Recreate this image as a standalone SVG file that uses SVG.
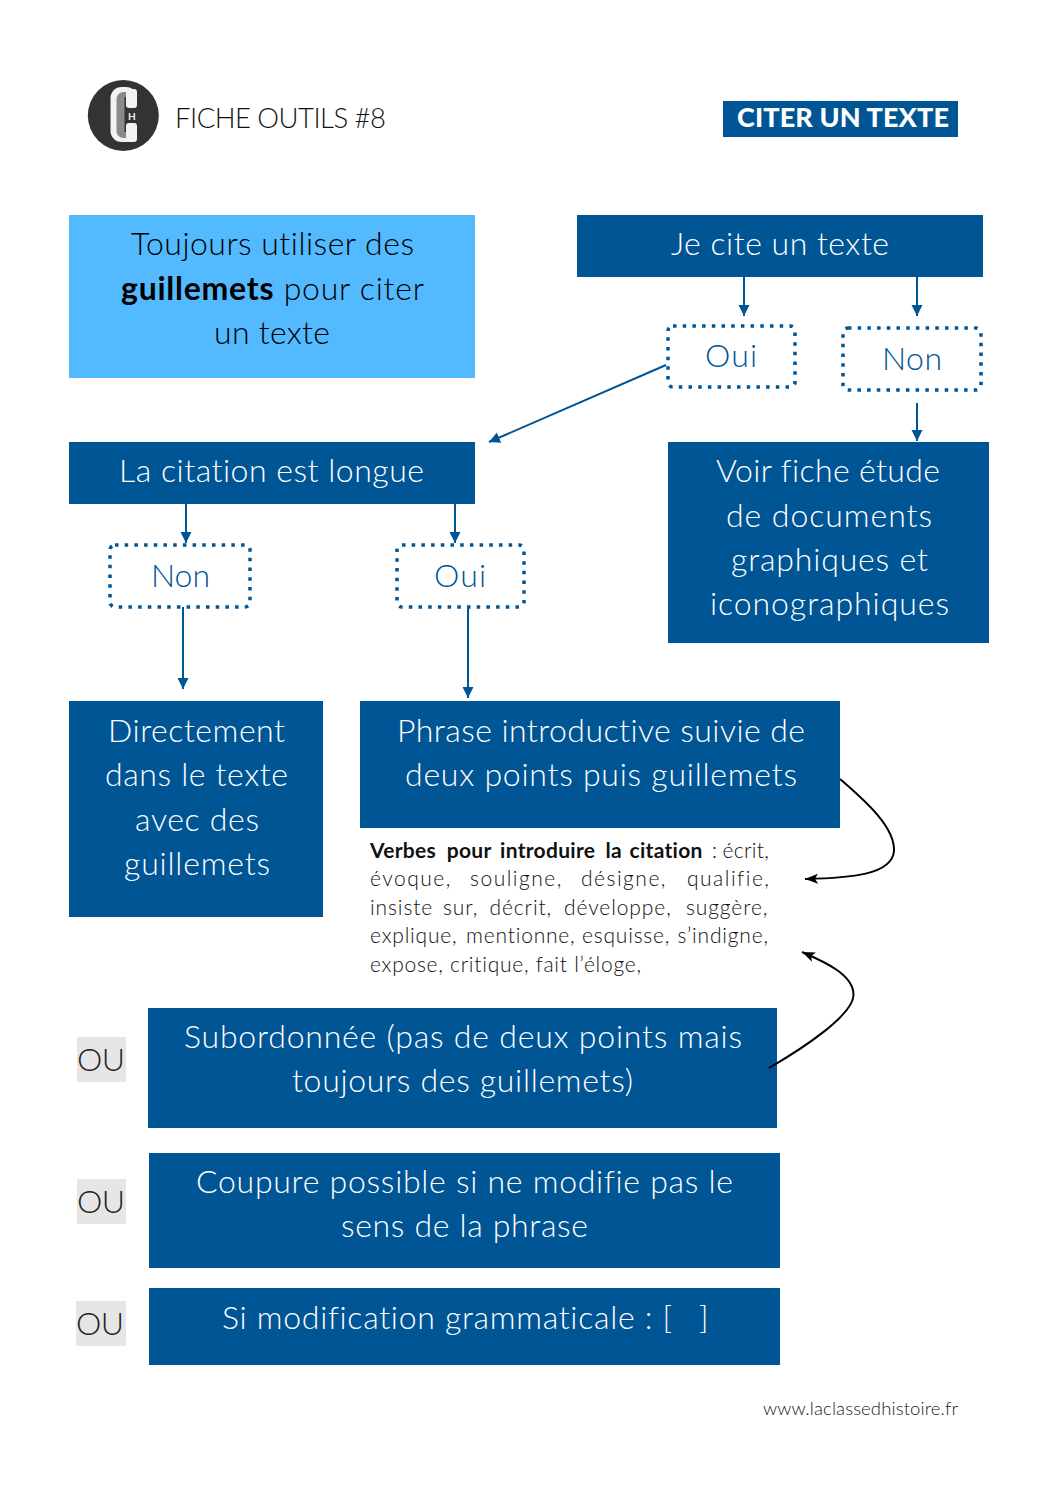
<svg xmlns="http://www.w3.org/2000/svg" width="1058" height="1497" viewBox="0 0 1058 1497">
<style>
text{font-family:"Lato","Noto Sans",sans-serif;font-weight:300;font-variant-ligatures:none}
.b{fill:#005595}
.l{font-size:32px;fill:#fff}
.d{font-size:32px;fill:#005595}
.s{font-size:21px;fill:#111}
.bd{font-weight:700}
.ou{font-size:32px;fill:#222}
.g{fill:#e6e6e6}
.dot{fill:#fff;stroke:#005595;stroke-width:3.5;stroke-dasharray:3.5 6.2}
.c{fill:none;stroke:#005595;stroke-width:2}
.a{fill:none;stroke:#000;stroke-width:2}
</style>
<defs>
<marker id="m" markerUnits="userSpaceOnUse" markerWidth="12" markerHeight="12" refX="11" refY="6" orient="auto"><path d="M0,0.5L11,6L0,11.5z" fill="#005595"/></marker>
<marker id="n" markerUnits="userSpaceOnUse" markerWidth="14" markerHeight="12" refX="13" refY="6" orient="auto"><path d="M0,1L13,6L0,11L3,6z" fill="#000"/></marker>
</defs>
<rect width="1058" height="1497" fill="#fff"/>
<g id="logo">
<circle cx="123.300" cy="115.500" r="35.500" fill="#333"/>
<rect x="110.500" y="87" width="26.500" height="55" rx="11" fill="#f2f2f2"/>
<rect x="116.500" y="92" width="17" height="46" rx="7" fill="#8a8a8a"/>
<rect x="124.500" y="97" width="13" height="35" fill="#333"/>
<rect x="126" y="89" width="11" height="19" rx="3" fill="#f2f2f2"/>
<rect x="126" y="123" width="11" height="19" rx="3" fill="#f2f2f2"/>
<text x="128" y="119.500" style="font-size:10px;font-weight:700;fill:#eee">H</text>
</g>
<g id="title"><text x="175" y="128" textLength="211" style="font-size:27.500px;fill:#111">FICHE OUTILS #8</text></g>
<g id="badge"><rect x="723" y="101" width="235" height="36" class="b"/><text x="737" y="127" textLength="212" style="font-size:27px;font-weight:900;fill:#fff">CITER UN TEXTE</text></g>
<g id="guillemets"><rect x="69" y="215" width="406" height="163" fill="#54baff"/>
<text x="131" y="255" textLength="283" class="d" style="fill:#000">Toujours utiliser des</text>
<text x="121" y="300" textLength="303" class="d" style="fill:#000"><tspan class="bd">guillemets</tspan> pour citer</text>
<text x="214" y="344" textLength="116" class="d" style="fill:#000">un texte</text></g>
<g id="je-cite"><rect x="577" y="215" width="406" height="62" class="b"/><text x="671" y="255" textLength="218" class="l">Je cite un texte</text></g>
<g id="oui-1"><rect x="668" y="326" width="127" height="61" rx="5" class="dot"/><text x="705" y="367" textLength="52" class="d">Oui</text></g>
<g id="non-1"><rect x="843" y="328" width="138" height="62" rx="5" class="dot"/><text x="882" y="370" textLength="60" class="d">Non</text></g>
<g id="longue"><rect x="69" y="442" width="406" height="62" class="b"/><text x="119" y="482" textLength="305" class="l">La citation est longue</text></g>
<g id="voir"><rect x="668" y="442" width="321" height="201" class="b"/>
<text x="716" y="482" textLength="224" class="l">Voir fiche étude</text>
<text x="726" y="527" textLength="206" class="l">de documents</text>
<text x="731" y="571" textLength="197" class="l">graphiques et</text>
<text x="710" y="615" textLength="239" class="l">iconographiques</text></g>
<g id="non-2"><rect x="110" y="545" width="140" height="62" rx="5" class="dot"/><text x="151" y="587" textLength="59" class="d">Non</text></g>
<g id="oui-2"><rect x="397" y="545" width="127" height="62" rx="5" class="dot"/><text x="434" y="587" textLength="52" class="d">Oui</text></g>
<g id="directement"><rect x="69" y="701" width="254" height="216" class="b"/>
<text x="108" y="742" textLength="177" class="l">Directement</text>
<text x="105" y="786" textLength="183" class="l">dans le texte</text>
<text x="135" y="831" textLength="124" class="l">avec des</text>
<text x="124" y="875" textLength="146" class="l">guillemets</text></g>
<g id="phrase"><rect x="360" y="701" width="480" height="127" class="b"/>
<text x="397" y="742" textLength="408" class="l">Phrase introductive suivie de</text>
<text x="405" y="786" textLength="392" class="l">deux points puis guillemets</text></g>
<g id="verbes">
<text class="s" y="858" style="letter-spacing:.3px"><tspan x="370" class="bd">Verbes</tspan><tspan x="446.700" class="bd">pour</tspan><tspan x="500" class="bd">introduire</tspan><tspan x="605.600" class="bd">la</tspan><tspan x="629.500" class="bd">citation</tspan><tspan x="712">:</tspan><tspan x="722.500">écrit,</tspan></text>
<text class="s" y="886" style="letter-spacing:1.5px"><tspan x="370">évoque,</tspan><tspan x="470">souligne,</tspan><tspan x="581">désigne,</tspan><tspan x="687">qualifie,</tspan></text>
<text class="s" y="915" style="letter-spacing:.9px"><tspan x="370">insiste</tspan><tspan x="443">sur,</tspan><tspan x="489.500">décrit,</tspan><tspan x="564">développe,</tspan><tspan x="686">suggère,</tspan></text>
<text class="s" y="943" style="letter-spacing:.8px"><tspan x="370">explique,</tspan><tspan x="466">mentionne,</tspan><tspan x="582">esquisse,</tspan><tspan x="677.500">s’indigne,</tspan></text>
<text class="s" x="370" y="972" textLength="271">expose, critique, fait l’éloge,</text>
</g>
<g id="ou-1"><rect x="77" y="1037" width="49" height="45" class="g"/><text x="77" y="1071" textLength="48" class="ou">OU</text></g>
<g id="subordonnee"><rect x="148" y="1008" width="629" height="120" class="b"/>
<text x="184" y="1048" textLength="558" class="l">Subordonnée (pas de deux points mais</text>
<text x="292" y="1092" textLength="341" class="l">toujours des guillemets)</text></g>
<g id="ou-2"><rect x="77" y="1179" width="49" height="45" class="g"/><text x="77" y="1213" textLength="48" class="ou">OU</text></g>
<g id="coupure"><rect x="149" y="1153" width="631" height="115" class="b"/>
<text x="196" y="1193" textLength="537" class="l">Coupure possible si ne modifie pas le</text>
<text x="341" y="1237" textLength="247" class="l">sens de la phrase</text></g>
<g id="ou-3"><rect x="76" y="1301" width="50" height="45" class="g"/><text x="76" y="1335" textLength="48" class="ou">OU</text></g>
<g id="modification"><rect x="149" y="1288" width="631" height="77" class="b"/>
<text x="222" y="1329" textLength="450" class="l">Si modification grammaticale : [</text>
<text x="699" y="1329" class="l">]</text></g>
<g id="footer"><text x="763" y="1415" textLength="195" style="font-size:18.500px;fill:#222">www.laclassedhistoire.fr</text></g>
<g id="connectors">
<path class="c" marker-end="url(#m)" d="M744,277V316"/>
<path class="c" marker-end="url(#m)" d="M917,277V316"/>
<path class="c" marker-end="url(#m)" d="M666,365L489,442"/>
<path class="c" marker-end="url(#m)" d="M917,403V441"/>
<path class="c" marker-end="url(#m)" d="M186,504V543"/>
<path class="c" marker-end="url(#m)" d="M455,504V543"/>
<path class="c" marker-end="url(#m)" d="M183,607V689"/>
<path class="c" marker-end="url(#m)" d="M468,607V698"/>
<path class="a" marker-end="url(#n)" d="M840,779C868,803 895,828 894,851C892,875 850,878 805,879"/>
<path class="a" marker-end="url(#n)" d="M769,1068C805,1047 853,1015 853.500,995C854,975 825,962 802,952"/>
</g>
</svg>
